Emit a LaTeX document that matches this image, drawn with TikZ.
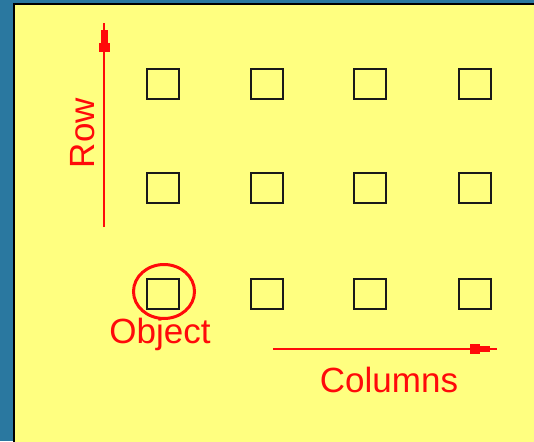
\documentclass[tikz,border=0pt]{standalone}
\usepackage{fontspec}
\setmainfont{Liberation Sans}
\usetikzlibrary{calc}
\definecolor{panel}{HTML}{FFFF80}
\definecolor{backdrop}{HTML}{2A78A0}
\definecolor{ink}{HTML}{FF0A0A}
\begin{document}
\begin{tikzpicture}[x=1pt,y=-1pt,
  cell/.style={draw=black!90, line width=2.2pt, minimum width=32pt, minimum height=30pt, inner sep=0pt},
  lbl/.style={text=ink, font=\fontsize{35}{40}\selectfont, inner sep=0pt},
  axis/.style={draw=ink, line width=2pt}]
  % backdrop and sheet
  \fill[backdrop] (0,0) rectangle (534,441);
  \useasboundingbox (0,0) rectangle (534,441);
  \fill[panel] (13.5,4) rectangle (540,445);
  \draw[black, line width=2pt] (13.5,450) -- (13.5,4) -- (540,4);

  % grid of objects
  \foreach \r/\y in {1/84,2/188,3/294}
    \foreach \c/\x in {1/163,2/267,3/370,4/475}
      \node[cell] (s-\r-\c) at (\x,\y) {};

  % highlighted object
  \draw[ink, line width=3pt] (164,291.5) ellipse [x radius=30.5, y radius=27];
  \node[lbl, anchor=base] (objlbl) at (160,343) {Object};

  % row axis
  \coordinate (rowtail) at (104,227);
  \coordinate (rowtip) at (104,23);
  \draw[axis] (rowtail) -- (rowtip);
  \fill[ink] ($(rowtip)+(-3.5,7)$) rectangle ($(rowtip)+(3.5,20)$);
  \fill[ink] ($(rowtip)+(-5.5,20)$) rectangle ($(rowtip)+(5.5,29)$);
  \node[lbl, rotate=90, anchor=base] (rowlbl) at (94,133) {Row};

  % column axis
  \coordinate (coltail) at (273,349);
  \coordinate (coltip) at (497,349);
  \draw[axis] (coltail) -- (coltip);
  \fill[ink] ($(coltip)+(-7,-3)$) rectangle ($(coltip)+(-17,3)$);
  \fill[ink] ($(coltip)+(-17,-5)$) rectangle ($(coltip)+(-27,5)$);
  \node[lbl, anchor=base] (collbl) at (389,392) {Columns};
\end{tikzpicture}
\end{document}
